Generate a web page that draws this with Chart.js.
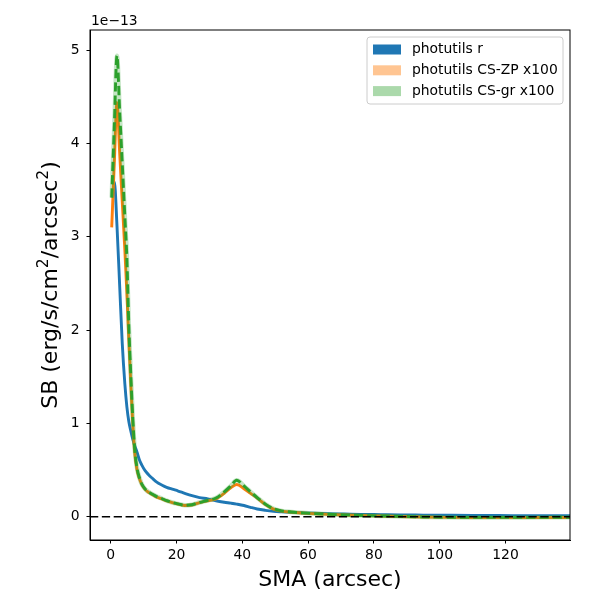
<!DOCTYPE html>
<html>
<head>
<meta charset="utf-8">
<script src="https://cdn.jsdelivr.net/npm/chart.js@4.4.1/dist/chart.umd.min.js"></script>
<style>
  html, body { margin: 0; padding: 0; background: #fff; }
  #wrap { width: 600px; height: 600px; }
</style>
</head>
<body>
<div id="wrap"><canvas id="sb" width="600" height="600"></canvas></div>
<script>
// ---------- Data (surface brightness in units of 1e-13) ----------
const sma = [0.3, 1.1, 1.9, 2.7, 3.5, 4.3, 4.9, 5.5, 6.1, 6.7, 7.3, 8.0, 8.7, 9.5, 10.5, 11.5, 12.7, 14, 15.5, 17,
  18.7, 20.5, 22.5, 24.7, 27, 29.5, 32, 34.5, 36.5, 38.3, 40.5, 42.5, 44.5, 47, 49.5, 52, 55, 58, 62, 66,
  71, 76, 82, 88, 95, 102, 110, 118, 126, 134, 142];

const sbR = [3.57, 3.59, 3.12, 2.49, 1.86, 1.42, 1.18, 1.02, 0.92, 0.83, 0.76, 0.69, 0.61, 0.55, 0.49, 0.45, 0.41, 0.37, 0.34, 0.315,
  0.295, 0.275, 0.25, 0.225, 0.205, 0.19, 0.17, 0.155, 0.145, 0.135, 0.12, 0.10, 0.082, 0.068, 0.058, 0.052, 0.046, 0.042, 0.037, 0.033,
  0.029, 0.025, 0.022, 0.019, 0.017, 0.015, 0.013, 0.012, 0.011, 0.010, 0.009];

const sbZP = [3.10, 3.80, 4.44, 3.91, 3.38, 2.85, 2.40, 1.90, 1.42, 1.00, 0.68, 0.50, 0.41, 0.34, 0.29, 0.26, 0.235, 0.21, 0.19, 0.17,
  0.15, 0.135, 0.12, 0.125, 0.15, 0.17, 0.19, 0.25, 0.31, 0.345, 0.30, 0.25, 0.20, 0.13, 0.08, 0.06, 0.048, 0.04, 0.032, 0.025,
  0.018, 0.012, 0.007, 0.002, -0.004, -0.008, -0.01, -0.01, -0.01, -0.009, -0.008];

const sbGR = [3.42, 4.20, 4.94, 4.36, 3.79, 3.21, 2.78, 2.05, 1.52, 1.06, 0.72, 0.52, 0.42, 0.345, 0.295, 0.265, 0.24, 0.215, 0.195, 0.172,
  0.152, 0.137, 0.122, 0.128, 0.152, 0.175, 0.2, 0.265, 0.33, 0.39, 0.33, 0.265, 0.205, 0.135, 0.085, 0.062, 0.05, 0.041, 0.033, 0.026,
  0.019, 0.013, 0.008, 0.003, -0.003, -0.006, -0.008, -0.008, -0.008, -0.007, -0.006];

const seriesLabels = ['photutils r', 'photutils CS-ZP x100', 'photutils CS-gr x100'];
const xTickValues = [0, 20, 40, 60, 80, 100, 120];
const yTickValues = [0, 1, 2, 3, 4, 5];

// ---------- Colours (matplotlib tab10) ----------
const BLUE = '#1f77b4';
const ORANGE = '#ff7f0e';
const GREEN = '#2ca02c';
const FONT = '"DejaVu Sans", Verdana, sans-serif';

function points(ys) {
  return sma.map((x, i) => ({ x: x, y: ys[i] }));
}

// y title with raised superscripts, drawn piece by piece
function drawYTitle(ctx, cx, cy) {
  const parts = [['SB (erg/s/cm', false], ['2', true], ['/arcsec', false], ['2', true], [')', false]];
  const big = '22px ' + FONT, small = '15.5px ' + FONT;
  let total = 0;
  parts.forEach(p => { ctx.font = p[1] ? small : big; total += ctx.measureText(p[0]).width; });
  ctx.save();
  ctx.translate(cx, cy);
  ctx.rotate(-Math.PI / 2);
  ctx.fillStyle = '#000';
  ctx.textAlign = 'left';
  ctx.textBaseline = 'alphabetic';
  let x = -total / 2;
  const base = 8;
  parts.forEach(p => {
    ctx.font = p[1] ? small : big;
    ctx.fillText(p[0], x, p[1] ? base - 9 : base);
    x += ctx.measureText(p[0]).width;
  });
  ctx.restore();
}

// ---------- Extra drawing: frame, zero line, offset text, legend ----------
const mplExtras = {
  id: 'mplExtras',
  afterDatasetsDraw(chart) {
    const ctx = chart.ctx;
    const a = chart.chartArea;
    const y0 = chart.scales.y.getPixelForValue(0);
    ctx.save();
    ctx.strokeStyle = '#000';
    ctx.lineWidth = 1.5;
    ctx.setLineDash([5.5, 2.4].map(d => d * 1.5));
    ctx.beginPath();
    ctx.moveTo(a.left, y0);
    ctx.lineTo(a.right, y0);
    ctx.stroke();
    ctx.restore();
  },
  afterDraw(chart) {
    const ctx = chart.ctx;
    const a = chart.chartArea;
    ctx.save();

    // full box like matplotlib spines
    ctx.strokeStyle = '#000';
    ctx.lineWidth = 1;
    ctx.strokeRect(a.left, a.top, a.right - a.left, a.bottom - a.top);

    // offset text
    ctx.fillStyle = '#000';
    ctx.font = '13.9px ' + FONT;
    ctx.textAlign = 'left';
    ctx.textBaseline = 'alphabetic';
    ctx.fillText('1e\u221213', a.left + 1, a.top - 5);

    drawYTitle(ctx, 49, (a.top + a.bottom) / 2);

    // legend box
    const lx = a.right - 203, ly = a.top + 7, lw = 196, lh = 67;
    ctx.fillStyle = 'rgba(255,255,255,0.8)';
    ctx.strokeStyle = '#cccccc';
    ctx.lineWidth = 1;
    ctx.beginPath();
    ctx.roundRect(lx, ly, lw, lh, 3);
    ctx.fill();
    ctx.stroke();

    const patchColors = [BLUE, 'rgba(255,127,14,0.45)', 'rgba(44,160,44,0.4)'];
    ctx.font = '13.9px ' + FONT;
    ctx.textBaseline = 'middle';
    seriesLabels.forEach((label, i) => {
      const cy = ly + 12.5 + i * 20.8;
      ctx.fillStyle = patchColors[i];
      ctx.fillRect(lx + 6, cy - 5, 28, 10);
      ctx.fillStyle = '#000';
      ctx.fillText(label, lx + 45, cy);
    });
    ctx.restore();
  }
};

// ---------- Chart ----------
const ctx = document.getElementById('sb').getContext('2d');
new Chart(ctx, {
  type: 'line',
  data: {
    datasets: [
      { label: seriesLabels[0], data: points(sbR), borderColor: BLUE, borderWidth: 2.9, order: 4 },
      { label: seriesLabels[1], data: points(sbZP), borderColor: ORANGE, borderWidth: 2.9, order: 3 },
      { label: 'gr band', data: points(sbGR), borderColor: 'rgba(44,160,44,0.28)', borderWidth: 4.5, order: 2 },
      { label: seriesLabels[2], data: points(sbGR), borderColor: GREEN, borderWidth: 2.9, borderDash: [9.25, 4], order: 1 }
    ]
  },
  options: {
    responsive: false,
    animation: false,
    devicePixelRatio: 1,
    layout: { padding: { left: 0, right: 30, top: 30, bottom: 0 } },
    elements: {
      point: { radius: 0 },
      line: { tension: 0.4, cubicInterpolationMode: 'monotone', fill: false, borderJoinStyle: 'round', borderCapStyle: 'butt' }
    },
    plugins: { legend: { display: false }, tooltip: { enabled: false } },
    scales: {
      x: {
        type: 'linear',
        min: -6.3,
        max: 139.6,
        afterBuildTicks: s => { s.ticks = xTickValues.map(v => ({ value: v })); },
        afterFit: s => { s.height = 60; },
        grid: { drawOnChartArea: false, drawTicks: true, tickLength: 3.5, tickColor: '#000' },
        border: { display: true, color: '#000', width: 1 },
        ticks: { color: '#000', font: { family: FONT, size: 13.9 }, padding: 4, maxRotation: 0 },
        title: { display: true, text: 'SMA (arcsec)', color: '#000', font: { family: FONT, size: 22 }, padding: { top: 0, bottom: 7 } }
      },
      y: {
        type: 'linear',
        min: -0.25,
        max: 5.216,
        afterBuildTicks: s => { s.ticks = yTickValues.map(v => ({ value: v })); },
        afterFit: s => { s.width = 90; },
        grid: { drawOnChartArea: false, drawTicks: true, tickLength: 3.5, tickColor: '#000' },
        border: { display: true, color: '#000', width: 1 },
        ticks: { color: '#000', font: { family: FONT, size: 13.9 }, padding: 7 }
      }
    }
  },
  plugins: [mplExtras]
});
</script>
</body>
</html>
